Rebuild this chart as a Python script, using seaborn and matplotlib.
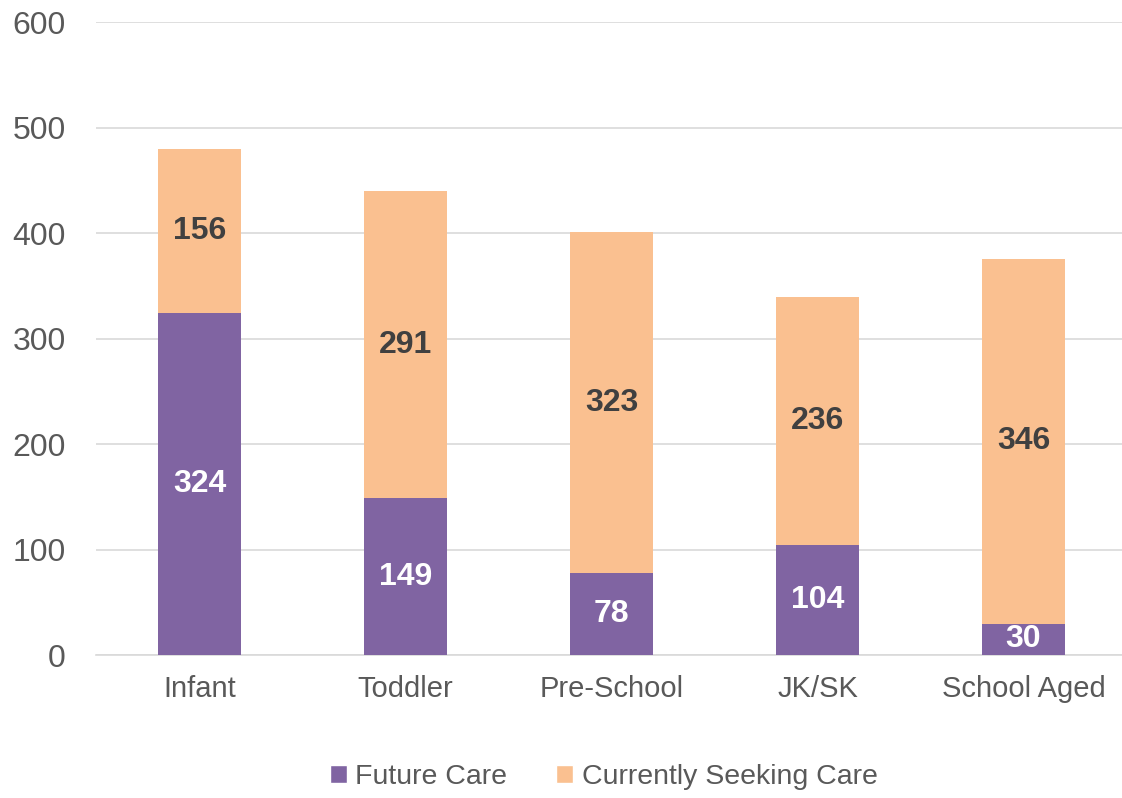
import numpy as np
import pandas as pd
import matplotlib
matplotlib.use("Agg")
import matplotlib.pyplot as plt
import seaborn as sns
from matplotlib.patches import Patch

## data ##

categories = ["Infant", "Toddler", "Pre-School", "JK/SK", "School Aged"]
future_care = [324, 149, 78, 104, 30]
seeking_care = [156, 291, 323, 236, 346]

purple = "#8064A2"
peach = "#FAC090"
grey = "#595959"

df = pd.DataFrame({"category": categories,
                   "future": future_care,
                   "seeking": seeking_care})
df["total"] = df["future"] + df["seeking"]

sns.set_style("white")
plt.rcParams["font.family"] = ["Liberation Sans", "DejaVu Sans"]

fig = plt.figure(figsize=(11.22, 7.98), dpi=100)
ax = fig.add_axes([0.086, 0.179, 0.918, 0.793])

# stacked bars: total drawn first, future care painted over the bottom
sns.barplot(data=df, x="category", y="total", color=peach, width=0.4,
            saturation=1, linewidth=0, ax=ax, zorder=3)
sns.barplot(data=df, x="category", y="future", color=purple, width=0.4,
            saturation=1, linewidth=0, ax=ax, zorder=4)

for i, row in df.iterrows():
    ax.text(i, row["future"] / 2, str(row["future"]), ha="center", va="center",
            color="white", fontsize=23, fontweight="bold", zorder=5)
    ax.text(i, row["future"] + row["seeking"] / 2, str(row["seeking"]),
            ha="center", va="center", color="#404040", fontsize=23,
            fontweight="bold", zorder=5)

ax.set_ylim(0, 600)
ax.set_xlim(-0.5, 4.5)
ax.set_yticks(np.arange(0, 601, 100))
ax.yaxis.grid(True, color="#D9D9D9", linewidth=1.2, zorder=0)
ax.set_axisbelow(True)
for s in ["top", "right", "left"]:
    ax.spines[s].set_visible(False)
ax.spines["bottom"].set_color("#D9D9D9")
ax.spines["bottom"].set_linewidth(1.2)
ax.tick_params(axis="x", length=0, labelsize=21, colors=grey, pad=14)
ax.tick_params(axis="y", length=0, labelsize=23, colors=grey, pad=22)
ax.set_xlabel("")
ax.set_ylabel("")

handles = [Patch(facecolor=purple, label="Future Care"),
           Patch(facecolor=peach, label="Currently Seeking Care")]
fig.legend(handles=handles, loc="lower center", bbox_to_anchor=(0.538, -0.022),
           ncol=2, frameon=False, fontsize=20.5, handlelength=0.6,
           handleheight=0.6, handletextpad=0.3, columnspacing=1.7,
           labelcolor=grey)

fig.savefig("out.png", dpi=100)
